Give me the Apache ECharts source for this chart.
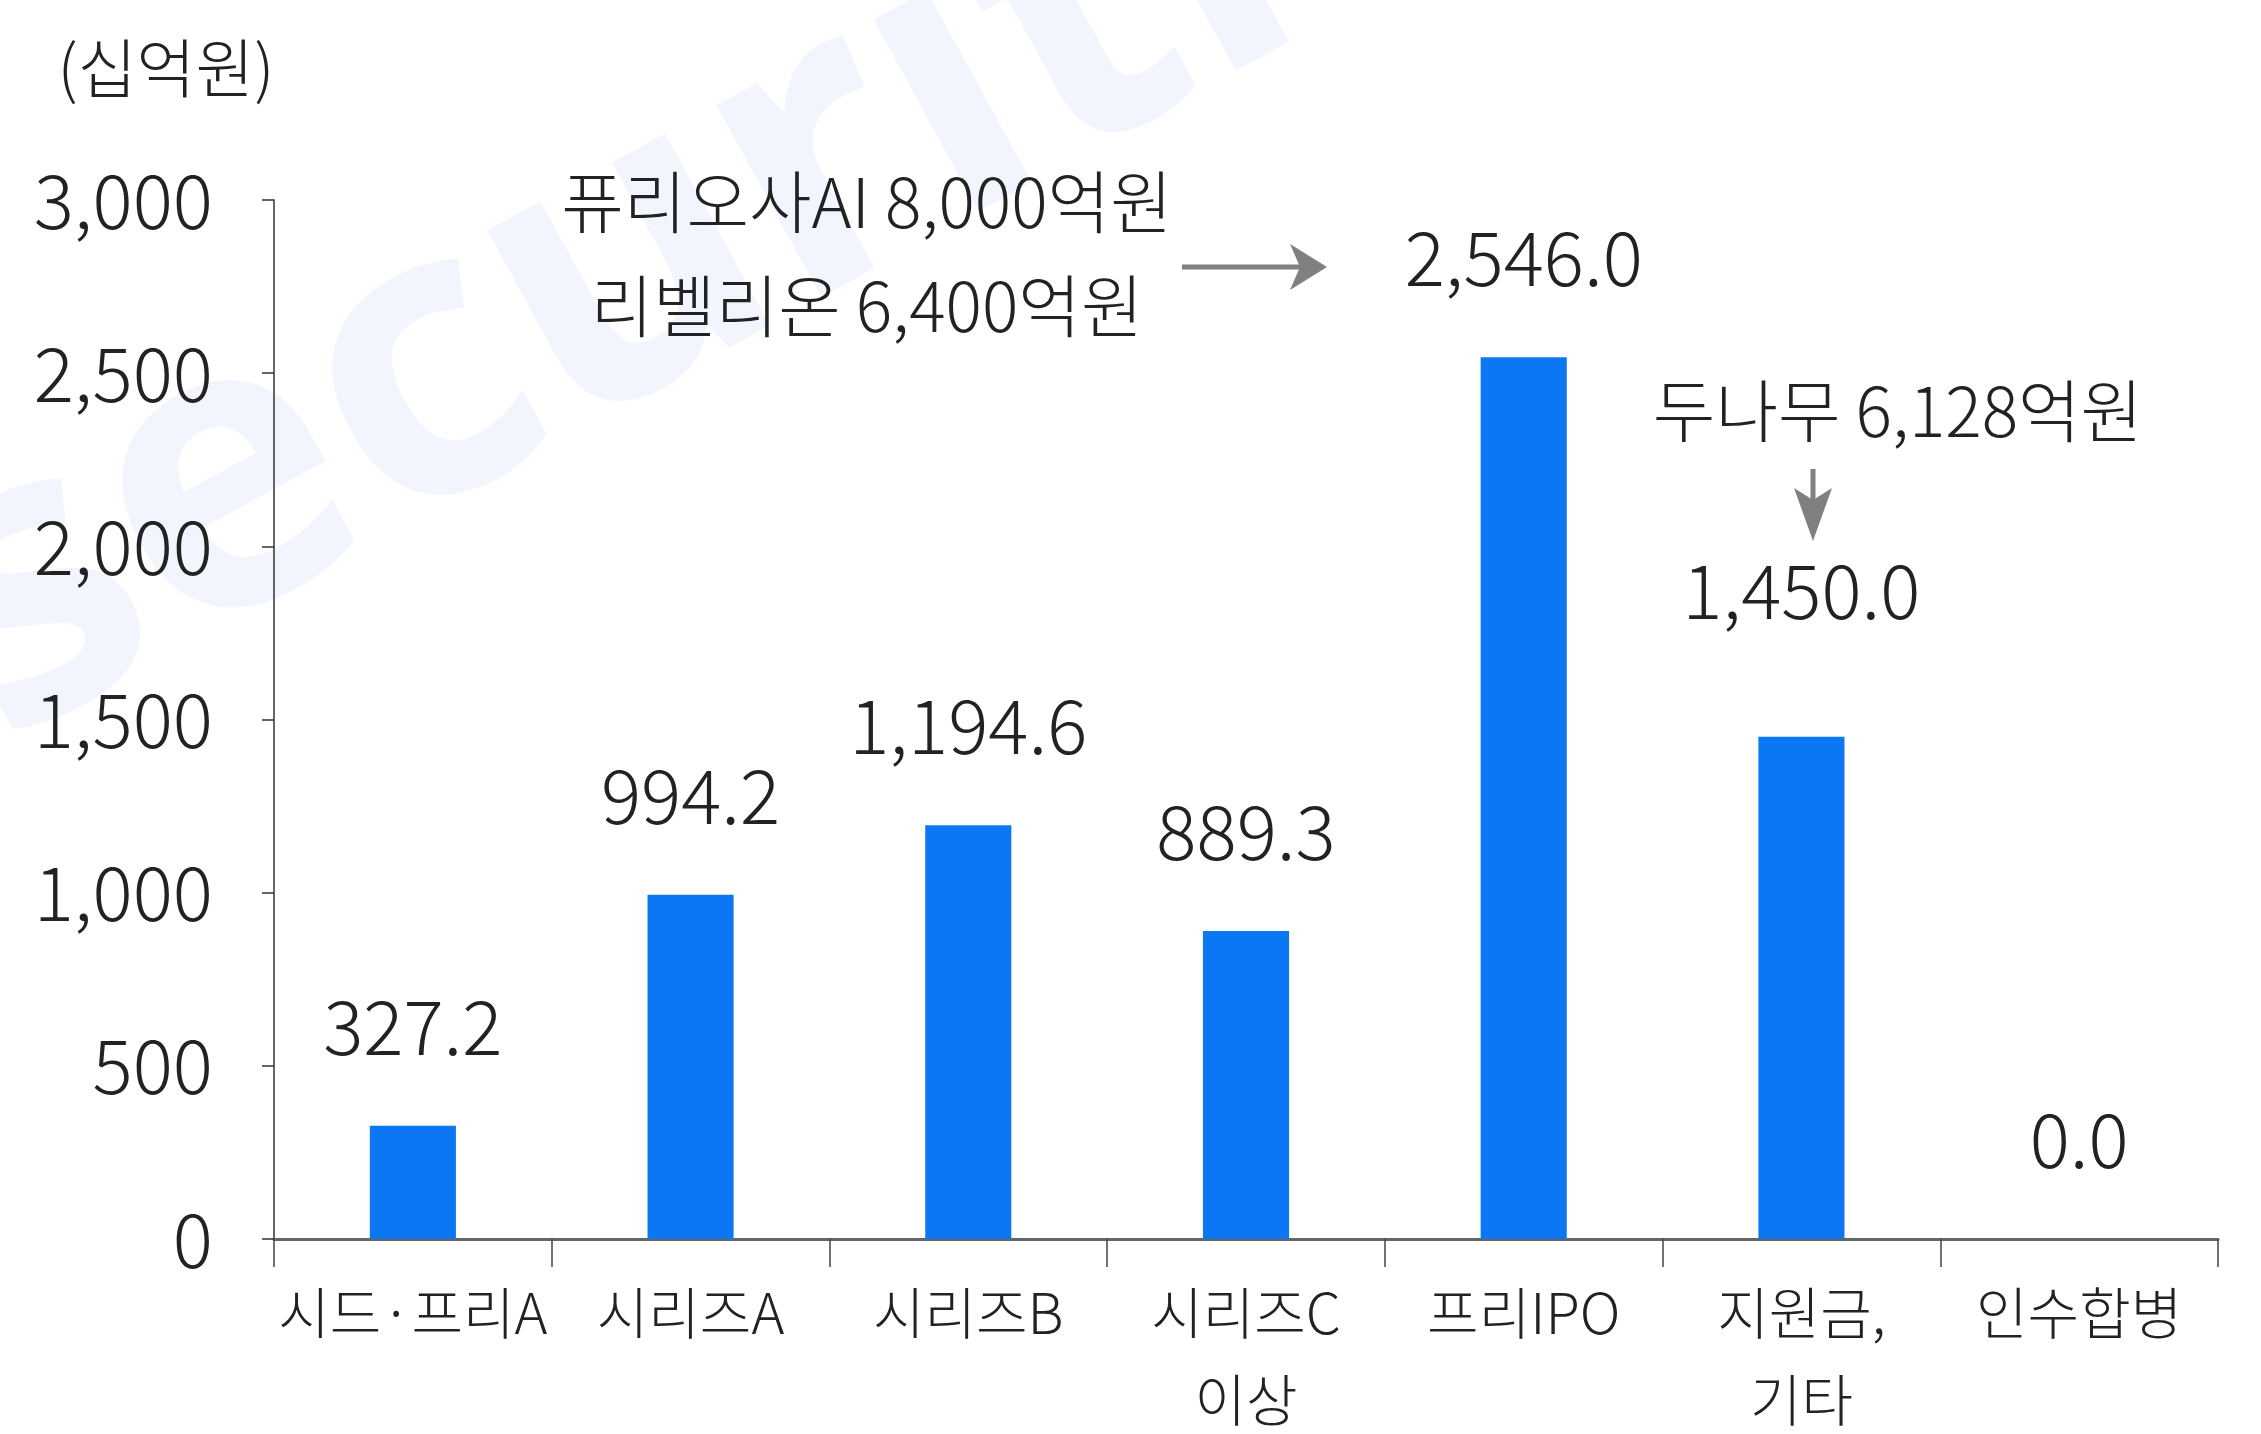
<!DOCTYPE html>
<html>
<head>
<meta charset="utf-8">
<script src="https://cdn.jsdelivr.net/npm/echarts@6/dist/echarts.min.js"></script>
<style>
html, body { margin: 0; padding: 0; background: #fff; }
#chart { width: 2261px; height: 1434px; }
</style>
</head>
<body>
<div id="chart"></div>
<script>
// 투자 단계별 투자금액 (십억원)
var categories = ['시드·프리A', '시리즈A', '시리즈B', '시리즈C\n이상', '프리IPO', '지원금,\n기타', '인수합병'];
var values = [327.2, 994.2, 1194.6, 889.3, 2546.0, 1450.0, 0.0];
var yTicks = [0, 500, 1000, 1500, 2000, 2500, 3000];
var unitText = '(십억원)';
var noteLeft = ['퓨리오사AI 8,000억원', '리벨리온 6,400억원'];
var noteRight = '두나무 6,128억원';

var font = '"Noto Sans CJK KR", "Noto Sans", sans-serif';
var barColor = '#0C77F2';

function fmt(v) {
	var s = v.toFixed(1).split('.');
	return s[0].replace(/\B(?=(\d{3})+(?!\d))/g, ',') + '.' + s[1];
}

var myChart = echarts.init(document.getElementById('chart'));

var option = {
	backgroundColor: '#fff',
	animation: false,
	grid: {
		left: 274,
		right: 43,
		top: 200,
		bottom: 195,
		containLabel: false,
		outerBoundsMode: 'none'
	},
	xAxis: {
		type: 'category',
		data: categories,
		axisLine: {
			lineStyle: { color: '#666', width: 3 }
		},
		axisTick: {
			show: true,
			interval: 0,
			length: 28,
			lineStyle: { color: '#444', width: 1.5 }
		},
		axisLabel: {
			interval: 0,
			margin: 30,
			fontFamily: font,
			fontSize: 56,
			fontWeight: 300,
			color: '#222',
			lineHeight: 87
		}
	},
	yAxis: {
		type: 'value',
		min: yTicks[0],
		max: yTicks[yTicks.length - 1],
		interval: 500,
		axisLine: {
			show: true,
			lineStyle: { color: '#333', width: 1.5 }
		},
		axisTick: {
			show: true,
			length: 12,
			lineStyle: { color: '#333', width: 1.5 }
		},
		splitLine: { show: false },
		axisLabel: {
			margin: 61,
			fontFamily: font,
			fontSize: 75,
			fontWeight: 300,
			color: '#222',
			formatter: function (v) {
				return v.toString().replace(/\B(?=(\d{3})+(?!\d))/g, ',');
			}
		}
	},
	series: [{
		type: 'bar',
		barWidth: '31%',
		itemStyle: { color: barColor },
		data: values.map(function (v, i) {
			var d = { value: v };
			if (i === 5) {
				d.label = { distance: 109 };
			}
			return d;
		}),
		label: {
			show: true,
			position: 'top',
			distance: 62,
			fontFamily: font,
			fontSize: 75,
			fontWeight: 300,
			color: '#222',
			formatter: function (p) { return fmt(p.value); }
		}
	}],
	graphic: [
		{
			// watermark
			type: 'text',
			z: -10,
			x: -150,
			y: 470,
			rotation: 0.5,
			style: {
				text: 'securities',
				font: 'bold 400px "Noto Sans", sans-serif',
				fill: '#f3f5fe'
			}
		},
		{
			type: 'text',
			x: 166,
			y: 68,
			style: {
				text: unitText,
				font: '300 64px ' + font,
				fill: '#222',
				align: 'center',
				verticalAlign: 'middle'
			}
		},
		{
			type: 'text',
			x: 867,
			y: 202,
			style: {
				text: noteLeft[0],
				font: '300 68px ' + font,
				fill: '#222',
				align: 'center',
				verticalAlign: 'middle'
			}
		},
		{
			type: 'text',
			x: 867,
			y: 306,
			style: {
				text: noteLeft[1],
				font: '300 68px ' + font,
				fill: '#222',
				align: 'center',
				verticalAlign: 'middle'
			}
		},
		{
			type: 'line',
			shape: { x1: 1182, y1: 267, x2: 1300, y2: 267 },
			style: { stroke: '#808080', lineWidth: 5 }
		},
		{
			type: 'polygon',
			shape: { points: [[1327, 267], [1290, 244], [1300, 267], [1290, 290]] },
			style: { fill: '#808080' }
		},
		{
			type: 'text',
			x: 1898,
			y: 411,
			style: {
				text: noteRight,
				font: '300 68px ' + font,
				fill: '#222',
				align: 'center',
				verticalAlign: 'middle'
			}
		},
		{
			type: 'line',
			shape: { x1: 1813, y1: 469, x2: 1813, y2: 515 },
			style: { stroke: '#808080', lineWidth: 5 }
		},
		{
			type: 'polygon',
			shape: { points: [[1813, 541], [1794, 488], [1813, 500], [1832, 488]] },
			style: { fill: '#808080' }
		}
	]
};

myChart.setOption(option);
</script>
</body>
</html>
